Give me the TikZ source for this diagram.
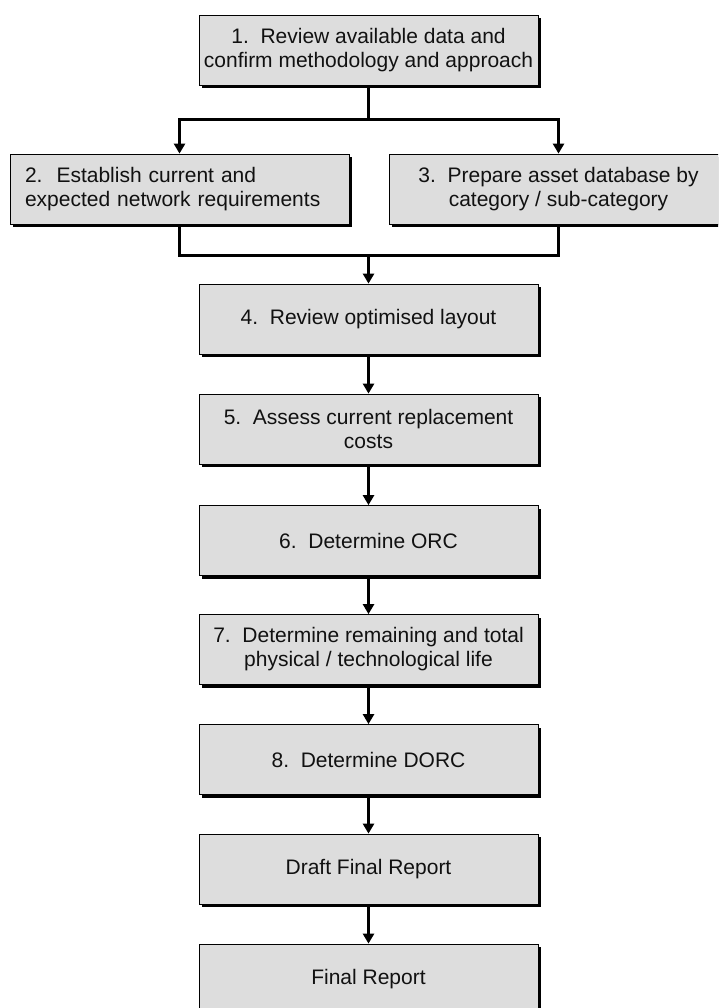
\documentclass[tikz,border=0pt]{standalone}
\usepackage{fontspec}
\setmainfont{Liberation Sans}
\usetikzlibrary{arrows.meta,shadows}
\definecolor{boxfill}{HTML}{DDDDDD}
\definecolor{txt}{HTML}{111111}
\begin{document}
\begin{tikzpicture}[x=1pt,y=-1pt,
  stepbox/.style={draw=black, line width=0.8pt, fill=boxfill,
    minimum width=339pt, minimum height=70pt, inner sep=0pt,
    align=center, text=txt,
    font=\fontsize{21}{24}\selectfont,
    drop shadow={shadow xshift=3pt, shadow yshift=-3pt, fill=black, opacity=1}},
  leftbox/.style={stepbox, text width=309pt, align=left},
  link/.style={line width=3pt, draw=black},
  arr/.style={link, -{Triangle[width=11pt,length=10pt]}}]
\useasboundingbox (0,0) rectangle (718,1008);
\clip (0,0) rectangle (718,1008);
\fill[white] (0,0) rectangle (718,1008);

\node[stepbox] (b1) at (368.5,50) {1.~~Review available data and\\confirm methodology and approach};
\node[leftbox] (b2) at (179.5,189) {2.~~Establish current and\\expected network requirements};
\node[stepbox] (b3) at (558.5,189) {3.~~Prepare asset database by\\category / sub-category};
\node[stepbox] (b4) at (368.5,319) {4.~~Review optimised layout};
\node[stepbox] (b5) at (368.5,429) {5.~~Assess current replacement\\costs};
\node[stepbox] (b6) at (368.5,540.5) {6.~~Determine ORC};
\node[stepbox] (b7) at (368.5,649.5) {7.~~Determine remaining and total\\physical / technological life};
\node[stepbox] (b8) at (368.5,759.5) {8.~~Determine DORC};
\node[stepbox] (b9) at (368.5,869) {Draft Final Report};
\node[stepbox] (b10) at (368.5,979) {Final Report};

\coordinate (sp) at (368.5,120);
\coordinate (jn) at (368.5,255);
\draw[arr] (b1.south) -- (sp) -| (b2.north);
\draw[arr] (b1.south) -- (sp) -| (b3.north);
\draw[link] (b2.south) |- (jn) -| (b3.south);
\draw[arr] (jn) -- (b4.north);
\draw[arr] (b4) -- (b5);
\draw[arr] (b5) -- (b6);
\draw[arr] (b6) -- (b7);
\draw[arr] (b7) -- (b8);
\draw[arr] (b8) -- (b9);
\draw[arr] (b9) -- (b10);
\end{tikzpicture}
\end{document}
